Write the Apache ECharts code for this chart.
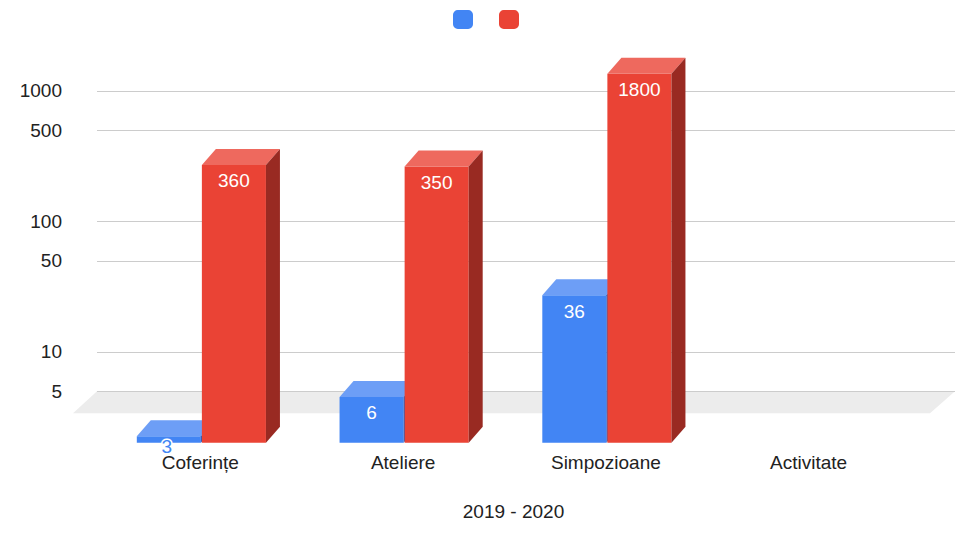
<!DOCTYPE html>
<html>
<head>
<meta charset="utf-8">
<script src="https://cdn.jsdelivr.net/npm/echarts@6/dist/echarts.min.js"></script>
<style>html,body{margin:0;padding:0;background:#fff}#c{width:961px;height:533px}</style>
</head>
<body>
<div id="c"></div>
<script>
const categories = ['Coferințe', 'Ateliere', 'Simpozioane', 'Activitate'];
const seriesBlue = [3, 6, 36, null];
const seriesRed = [360, 350, 1800, null];
const yTicks = [5, 10, 50, 100, 500, 1000];
const xTitle = '2019 - 2020';
const seriesNames = ['Seria 1', 'Seria 2'];

const Y_MIN = 2.67, Y_MAX = 2000;
const DX = 14, DY = 16;
const FONT = '"Liberation Sans", Arial, sans-serif';
const FS = 19;

const palettes = [
  { front: '#4285F4', top: '#6d9ef6', side: '#2b5cb8' },
  { front: '#EA4335', top: '#ee695e', side: '#992a22' }
];

function barRender(si) {
  return function (params, api) {
    const cat = api.value(0), v = api.value(1);
    if (v == null || isNaN(v)) return;
    const topPt = api.coord([cat, v]);
    const basePt = api.coord([cat, Y_MIN]);
    const band = api.size([1, 0])[0];
    const w = band * 0.316;
    const x0 = si === 0 ? topPt[0] - w + 0.5 : topPt[0] + 1.5;
    const fy = topPt[1] + DY;
    const fb = basePt[1] + DY;
    const p = palettes[si];
    const small = fb - fy < 20;
    return {
      type: 'group',
      children: [
        { type: 'rect', shape: { x: x0, y: fy, width: w, height: fb - fy }, style: { fill: p.front } },
        { type: 'polygon', shape: { points: [[x0, fy], [x0 + w, fy], [x0 + w + DX, fy - DY], [x0 + DX, fy - DY]] }, style: { fill: p.top } },
        { type: 'polygon', shape: { points: [[x0 + w, fy], [x0 + w + DX, fy - DY], [x0 + w + DX, fb - DY], [x0 + w, fb]] }, style: { fill: p.side } },
        { type: 'text', z2: 10, style: {
            text: String(v), x: x0 + w / 2 - (small ? 2 : 0), y: small ? fb + 4 : fy + 16,
            align: 'center', verticalAlign: 'middle',
            fill: small ? p.front : '#ffffff',
            stroke: small ? '#ffffff' : null, lineWidth: small ? 3 : 0,
            fontSize: FS, fontFamily: FONT } }
      ]
    };
  };
}

const chart = echarts.init(document.getElementById('c'), null, { renderer: 'svg' });
chart.setOption({
  animation: false,
  backgroundColor: '#ffffff',
  legend: {
    data: seriesNames, left: 448, top: 5, itemWidth: 20, itemHeight: 19, itemGap: 26,
    icon: 'roundRect', formatter: function () { return ''; }, selectedMode: false
  },
  grid: [
    { left: 97, right: 6, top: 51.7, bottom: 106.2 },
    { left: 99, right: 51, top: 51.7, bottom: 106.2 }
  ],
  xAxis: [
    { gridIndex: 0, type: 'value', min: 0, max: 1, show: false },
    { gridIndex: 1, type: 'category', data: categories,
      axisLine: { show: false }, axisTick: { show: false },
      axisLabel: { margin: 26, fontSize: FS, color: '#222222', fontFamily: FONT },
      name: xTitle, nameLocation: 'middle', nameGap: 75,
      nameTextStyle: { fontSize: FS, color: '#222222', fontFamily: FONT, padding: [0, 0, 0, 18] } }
  ],
  yAxis: [
    { gridIndex: 0, type: 'log', min: Y_MIN, max: Y_MAX,
      axisLine: { show: false }, axisTick: { show: false, customValues: yTicks }, splitLine: { show: false },
      axisLabel: { customValues: yTicks, margin: 35, fontSize: FS, color: '#222222', fontFamily: FONT,
        formatter: function (v) { return String(Math.round(v)); } } },
    { gridIndex: 1, type: 'log', min: Y_MIN, max: Y_MAX, show: false, splitLine: { show: false } }
  ],
  series: [
    { type: 'custom', name: 'grid', xAxisIndex: 0, yAxisIndex: 0, silent: true, z: 1,
      data: yTicks.map(t => [0, t]),
      renderItem: function (params, api) {
        const cs = params.coordSys;
        const y = Math.round(api.coord([0, api.value(1)])[1]) + 0.5;
        return { type: 'line', shape: { x1: cs.x, y1: y, x2: cs.x + cs.width, y2: y }, style: { stroke: '#cccccc', lineWidth: 1 } };
      } },
    { type: 'custom', name: 'floor', xAxisIndex: 0, yAxisIndex: 0, silent: true, z: 0,
      data: [[0, yTicks[0]]],
      renderItem: function (params, api) {
        const cs = params.coordSys;
        const y = api.coord([0, api.value(1)])[1];
        return { type: 'polygon', shape: { points: [[cs.x, y], [cs.x + cs.width, y], [cs.x + cs.width - 25, y + 22], [cs.x - 24, y + 22]] }, style: { fill: '#ececec' } };
      } },
    { type: 'custom', name: seriesNames[0], xAxisIndex: 1, yAxisIndex: 1, z: 3,
      itemStyle: { color: palettes[0].front },
      data: seriesBlue.map((v, i) => [i, v]), renderItem: barRender(0) },
    { type: 'custom', name: seriesNames[1], xAxisIndex: 1, yAxisIndex: 1, z: 4,
      itemStyle: { color: palettes[1].front },
      data: seriesRed.map((v, i) => [i, v]), renderItem: barRender(1) }
  ]
});
</script>
</body>
</html>
